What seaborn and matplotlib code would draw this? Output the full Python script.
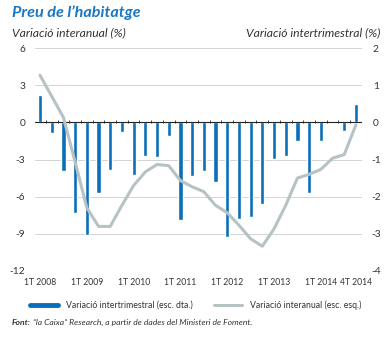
import numpy as np
import pandas as pd
import matplotlib
matplotlib.use("Agg")
import matplotlib.pyplot as plt
from matplotlib.lines import Line2D
import seaborn as sns

# ---- data ----
years = [2008, 2009, 2010, 2011, 2012, 2013, 2014]
quarters = [f"{q}T {y}" for y in years for q in (1, 2, 3, 4)]
qoq = [0.73, -0.29, -1.30, -2.45, -3.02, -1.91, -1.28, -0.25,
       -1.41, -0.90, -0.93, -0.37, -2.64, -1.44, -1.31, -1.61,
       -3.09, -2.60, -2.55, -2.20, -0.98, -0.91, -0.51, -1.90,
       -0.51, 0.00, -0.24, 0.49]
yoy = [3.8, 2.1, 0.4, -3.2, -6.9, -8.4, -8.4, -6.7,
       -5.1, -4.0, -3.4, -3.5, -4.7, -5.2, -5.6, -6.7,
       -7.3, -8.3, -9.4, -10.0, -8.6, -6.7, -4.5, -4.2,
       -3.8, -2.9, -2.6, -0.2]
xtick_labels = ["1T 2008", "1T 2009", "1T 2010", "1T 2011", "1T 2012",
                "1T 2013", "1T 2014", "4T 2014"]
left_ticks = [6, 3, 0, -3, -6, -9, -12]
right_ticks = [2, 1, 0, -1, -2, -3, -4]

df = pd.DataFrame({"quarter": quarters, "qoq": qoq, "yoy": yoy,
                   "pos": np.arange(len(quarters))})

sns.set_style("white")
plt.rcParams["font.family"] = ["Lato", "DejaVu Sans"]

BLUE = "#0a6fb8"
GRAY = "#b7c2c5"
TXT = "#333333"

W, H = 386, 338
fig = plt.figure(figsize=(W / 100, H / 100), dpi=100)
ax = fig.add_axes([35 / W, 1 - 271 / H, (362 - 35) / W, (271 - 48) / H])

# bars (right scale) on primary axes
sns.barplot(data=df, x="quarter", y="qoq", color=BLUE, width=0.36,
            saturation=1, ax=ax, zorder=2)
ax.set_ylim(right_ticks[-1], right_ticks[0])
ax.set_xlim(-0.43, len(quarters) - 0.48)

# line (left scale) on twin axes, drawn on top
ax2 = ax.twinx()
sns.lineplot(data=df, x="pos", y="yoy", color=GRAY, lw=2.2, ax=ax2,
             zorder=3)
ax2.set_ylim(left_ticks[-1], left_ticks[0])
ax2.set_xlim(ax.get_xlim())

# gridlines
for t in right_ticks:
    if t != 0:
        ax.axhline(t, color="#cccccc", lw=0.6, zorder=0)
ax.axhline(0, color="#222222", lw=0.8, zorder=4)
# small tick marks on the zero line between quarters
ax.vlines(np.arange(len(quarters) + 1) - 0.5, -0.02, 0.07,
          color="#222222", lw=0.6, zorder=4)

for a in (ax, ax2):
    for s in a.spines.values():
        s.set_visible(False)
    a.set_xlabel("")
    a.set_ylabel("")

# y ticks: right scale on right side, left scale on left side
ax.yaxis.tick_right()
ax.set_yticks(right_ticks)
ax.set_yticklabels([str(t) for t in right_ticks])
ax.tick_params(axis="y", length=0, pad=10, labelsize=7.3, colors=TXT)
for lbl in ax.get_yticklabels():
    lbl.set_horizontalalignment("center")

ax2.yaxis.tick_left()
ax2.set_yticks(left_ticks)
ax2.set_yticklabels([str(t) for t in left_ticks])
ax2.tick_params(axis="y", length=0, pad=7, labelsize=7.3, colors=TXT)

xt = [quarters.index(l) for l in xtick_labels]
ax.set_xticks(xt)
ax.set_xticklabels(xtick_labels)
ax.tick_params(axis="x", length=0, pad=5, labelsize=6.2, colors=TXT)
ax2.tick_params(axis="x", length=0)

# titles
fig.text(12 / W, 1 - 17 / H, "Preu de l’habitatge", fontsize=11.6,
         fontweight="bold", fontstyle="italic", color="#1a78c2",
         ha="left", va="baseline")
fig.text(12 / W, 1 - 36 / H, "Variació interanual (%)", fontsize=8.7,
         fontstyle="italic", color=TXT, ha="left", va="baseline")
fig.text(380 / W, 1 - 36 / H, "Variació intertrimestral (%)", fontsize=8.7,
         fontstyle="italic", color=TXT, ha="right", va="baseline")

# legend
handles = [Line2D([], [], color=BLUE, lw=3.5),
           Line2D([], [], color=GRAY, lw=2.2)]
labels = ["Variació intertrimestral (esc. dta.)",
          "Variació interanual (esc. esq.)"]
fig.legend(handles, labels, loc="center left",
           bbox_to_anchor=(30 / W, 1 - 305 / H), ncol=2, frameon=False,
           fontsize=6.3, handlelength=3.2, handletextpad=0.9,
           columnspacing=2.4, borderpad=0, borderaxespad=0,
           labelcolor=TXT)

# source
t1 = fig.text(12 / W, 1 - 325 / H, "Font:", fontsize=6.1, fontweight="bold",
              fontstyle="italic", color=TXT, ha="left", va="baseline")
fig.canvas.draw()
bb = t1.get_window_extent()
fig.text((bb.x1 + 2) / W, 1 - 325 / H,
         "“la Caixa” Research, a partir de dades del Ministeri de Foment.",
         fontsize=6.1, fontstyle="italic", color=TXT, ha="left",
         va="baseline")

fig.savefig("out.png", dpi=100)
